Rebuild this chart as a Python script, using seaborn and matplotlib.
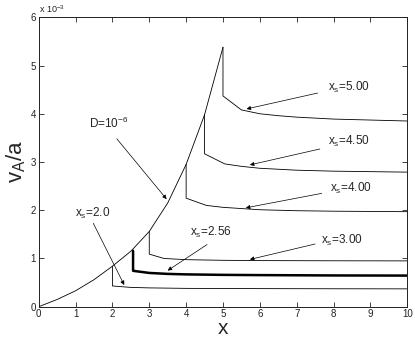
import matplotlib
matplotlib.use('Agg')
import matplotlib.pyplot as plt
import seaborn as sns

# values in units of 1e-3
d_x = [0, 0.5, 1, 1.5, 2, 2.5, 3, 3.5, 4, 4.5, 5]
d_y = [0, 0.15, 0.33, 0.56, 0.84, 1.15, 1.56, 2.15, 2.95, 3.98, 5.38]

xs20_x = [2.0, 2.0, 2.5, 3.0, 4.0, 6.0, 8.0, 10.0]
xs20_y = [0.84, 0.43, 0.40, 0.39, 0.38, 0.375, 0.372, 0.37]

xs256_x = [2.56, 2.56, 2.6, 3.0, 3.5, 4.0, 5.0, 6.0, 8.0, 10.0]
xs256_y = [1.16, 0.745, 0.74, 0.70, 0.68, 0.67, 0.66, 0.655, 0.648, 0.645]

xs30_x = [3.0, 3.0, 3.4, 4.0, 5.0, 6.0, 8.0, 10.0]
xs30_y = [1.56, 1.09, 1.00, 0.975, 0.962, 0.956, 0.952, 0.95]

xs40_x = [4.0, 4.0, 4.55, 5.0, 5.6, 6.0, 7.0, 8.0, 10.0]
xs40_y = [2.95, 2.25, 2.10, 2.06, 2.03, 2.01, 1.99, 1.98, 1.97]

xs45_x = [4.5, 4.5, 5.05, 5.5, 6.0, 7.0, 8.0, 10.0]
xs45_y = [3.98, 3.17, 2.96, 2.91, 2.87, 2.83, 2.81, 2.79]

xs50_x = [5.0, 5.0, 5.5, 6.0, 6.5, 7.0, 8.0, 9.0, 10.0]
xs50_y = [5.38, 4.37, 4.08, 4.00, 3.96, 3.93, 3.89, 3.87, 3.85]

# label text, text position, arrow tail, arrow head
labels = ['D=10$^{-6}$', 'x$_s$=2.0', 'x$_s$=2.56', 'x$_s$=3.00',
          'x$_s$=4.00', 'x$_s$=4.50', 'x$_s$=5.00']
text_pos = [(1.91, 3.79), (1.45, 1.94), (4.67, 1.53), (8.24, 1.38),
            (8.47, 2.46), (8.43, 3.42), (8.42, 4.54)]
arrow_tail = [(2.12, 3.48), (1.48, 1.73), (4.57, 1.29), (7.5, 1.30),
              (7.68, 2.35), (7.63, 3.27), (7.57, 4.43)]
arrow_head = [(3.47, 2.23), (2.32, 0.45), (3.50, 0.75), (5.73, 0.98),
              (5.62, 2.05), (5.73, 2.94), (5.64, 4.10)]

sns.set_style("ticks")
plt.rcParams['font.family'] = ['Liberation Sans', 'DejaVu Sans']
plt.rcParams['mathtext.fontset'] = 'custom'
plt.rcParams['mathtext.rm'] = 'Liberation Sans'
plt.rcParams['mathtext.it'] = 'Liberation Sans'

fig = plt.figure(figsize=(4.15, 3.38), dpi=100)
ax = fig.add_axes([0.0933, 0.0926, 0.888, 0.8562])

thin = 0.6
sns.lineplot(x=d_x, y=d_y, ax=ax, color='k', lw=thin, sort=False,
             estimator=None)
for cx, cy in [(xs20_x, xs20_y), (xs30_x, xs30_y), (xs40_x, xs40_y),
               (xs45_x, xs45_y), (xs50_x, xs50_y)]:
    sns.lineplot(x=cx, y=cy, ax=ax, color='k', lw=thin, sort=False,
                 estimator=None)
sns.lineplot(x=xs256_x, y=xs256_y, ax=ax, color='k', lw=1.8, sort=False,
             estimator=None)

for lab, tp, tail, head in zip(labels, text_pos, arrow_tail, arrow_head):
    ax.text(tp[0], tp[1], lab, fontsize=8.5, ha='center', va='center')
    ax.annotate('', xy=head, xytext=tail,
                arrowprops=dict(arrowstyle='-|>', color='k', lw=0.5,
                                mutation_scale=6, shrinkA=0, shrinkB=0))

ax.set_xlim(0, 10)
ax.set_ylim(0, 6)
ax.set_xticks(range(0, 11))
ax.set_yticks(range(0, 7))
ax.tick_params(direction='in', length=3.5, width=0.6, labelsize=7,
               top=True, right=True, colors='#222222', pad=2)
for sp in ax.spines.values():
    sp.set_linewidth(0.7)
    sp.set_color('#222222')

ax.text(0.0, 6.04, 'x 10$^{-3}$', fontsize=6.5, ha='left', va='bottom')
ax.set_xlabel('x', fontsize=15, labelpad=0)
ax.set_ylabel('v$_A$/a', fontsize=16, labelpad=2)

fig.savefig('out.png', dpi=100)
